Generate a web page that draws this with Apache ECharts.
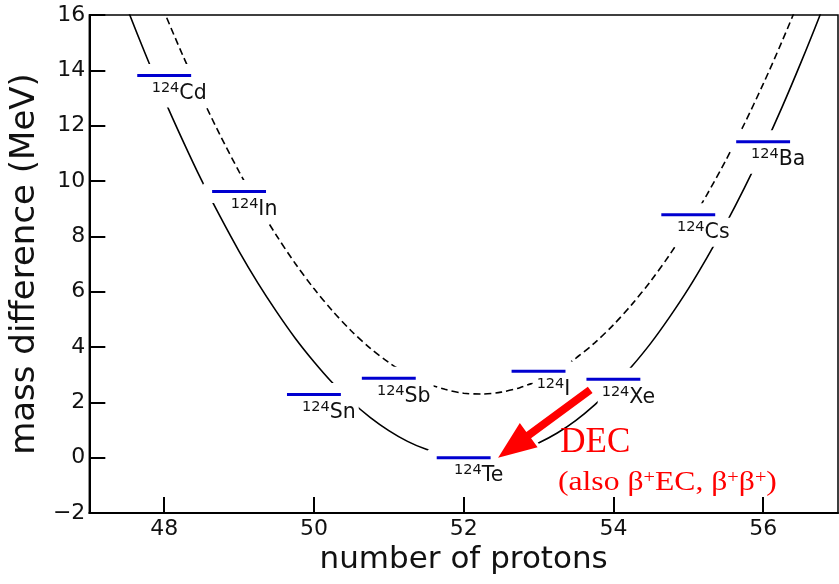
<!DOCTYPE html>
<html><head><meta charset="utf-8">
<script src="https://cdn.jsdelivr.net/npm/echarts@6/dist/echarts.min.js"></script>
<style>html,body{margin:0;padding:0;background:#fff}#c{width:839px;height:584px}</style>
</head><body><div id="c"></div>
<script>
// ---- data ----
const massNumber = '124';
const elements = ['Cd', 'In', 'Sn', 'Sb', 'Te', 'I', 'Xe', 'Cs', 'Ba'];
const protons = [48, 49, 50, 51, 52, 53, 54, 55, 56];
const massDiff = [13.81, 9.62, 2.28, 2.87, 0.0, 3.12, 2.83, 8.78, 11.42];

// even-even parabola (solid)
const evenZ = [47.0, 47.25, 47.5, 47.75, 48.0, 48.25, 48.5, 48.75, 49.0, 49.25, 49.5, 49.75, 50.0, 50.25, 50.5, 50.75, 51.0, 51.25, 51.5, 51.75, 52.0, 52.25, 52.5, 52.75, 53.0, 53.25, 53.5, 53.75, 54.0, 54.25, 54.5, 54.75, 55.0, 55.25, 55.5, 55.75, 56.0, 56.25, 56.5, 56.75, 57.0];
const evenE = [19.98, 18.08, 16.28, 14.58, 12.96, 11.45, 10.02, 8.70, 7.46, 6.32, 5.28, 4.32, 3.47, 2.70, 2.03, 1.46, 0.98, 0.59, 0.30, 0.10, 0.0, -0.01, 0.07, 0.25, 0.53, 0.89, 1.35, 1.91, 2.56, 3.31, 4.14, 5.08, 6.10, 7.23, 8.44, 9.75, 11.15, 12.65, 14.25, 15.93, 17.71];
// odd-odd parabola (dashed)
const oddZ = [47.5, 47.75, 48.0, 48.25, 48.5, 48.75, 49.0, 49.25, 49.5, 49.75, 50.0, 50.25, 50.5, 50.75, 51.0, 51.25, 51.5, 51.75, 52.0, 52.25, 52.5, 52.75, 53.0, 53.25, 53.5, 53.75, 54.0, 54.25, 54.5, 54.75, 55.0, 55.25, 55.5, 55.75, 56.0, 56.25, 56.5, 56.75, 57.0];
const oddE = [19.60, 17.81, 16.12, 14.53, 13.04, 11.64, 10.34, 9.13, 8.03, 7.02, 6.11, 5.30, 4.58, 3.96, 3.44, 3.02, 2.69, 2.47, 2.33, 2.30, 2.37, 2.53, 2.79, 3.14, 3.60, 4.15, 4.80, 5.55, 6.39, 7.33, 8.37, 9.51, 10.74, 12.07, 13.50, 15.03, 16.66, 18.38, 20.20];

const xTicks = [48, 50, 52, 54, 56];
const arrowFrom = [53.69, 2.45];
const arrowTo = [52.46, 0.0];
const decTitle = 'DEC';
const decNote = '(also β{s|+}EC, β{s|+}β{s|+})';
const decTitlePos = [53.29, 0.53];
const decNotePos = [53.26, -0.92];

// ---- helpers ----
const cvs = document.createElement('canvas').getContext('2d');
function tw(t, size, fam) { cvs.font = size + 'px ' + fam; return cvs.measureText(t).width; }
const SANS = '"DejaVu Sans"';
const halfBar = 0.36;
const labelShift = 0.2;
const SUP = 14.5, MAIN = 20.5;

function levelGeom(api) {
  const z = api.value(0), e = api.value(1), i = api.value(2);
  const l = api.coord([z - halfBar, e]);
  const r = api.coord([z + halfBar, e]);
  const c = api.coord([z + labelShift, e]);
  const ws = tw(massNumber, SUP, SANS), wm = tw(elements[i], MAIN, SANS);
  const x0 = c[0] - (ws + wm) / 2;
  return { l, r, y: l[1], x0, ws, wm, name: elements[i] };
}

const levelData = protons.map((z, i) => [z, massDiff[i], i]);

const chart = echarts.init(document.getElementById('c'), null, { renderer: 'canvas' });
chart.setOption({
  animation: false,
  backgroundColor: '#fff',
  grid: { left: 89, right: 1, top: 15, bottom: 71, show: true, borderColor: '#000', borderWidth: 1.5, backgroundColor: 'transparent' },
  xAxis: {
    type: 'value', min: 47, max: 57,
    name: 'number of protons', nameLocation: 'middle', nameGap: 30,
    nameTextStyle: { fontSize: 31, fontFamily: 'DejaVu Sans', color: '#111' },
    axisLine: { show: true, onZero: false, lineStyle: { color: '#000', width: 2 } },
    axisTick: { show: true, inside: true, length: 16, customValues: xTicks, lineStyle: { color: '#000', width: 2 } },
    axisLabel: { customValues: xTicks, margin: 5, fontSize: 22, fontFamily: 'DejaVu Sans', color: '#111' },
    splitLine: { show: false }
  },
  yAxis: {
    type: 'value', min: -2, max: 16, interval: 2,
    name: 'mass difference (MeV)', nameLocation: 'middle', nameGap: 44,
    nameTextStyle: { fontSize: 34, fontFamily: 'DejaVu Sans', color: '#111' },
    axisLine: { show: true, lineStyle: { color: '#000', width: 2 } },
    axisTick: { show: true, inside: true, length: 16, lineStyle: { color: '#000', width: 2 } },
    axisLabel: { margin: 4, fontSize: 22, fontFamily: 'DejaVu Sans', color: '#111',
      formatter: v => (v < 0 ? '\u2212' + Math.abs(v) : String(v)) },
    splitLine: { show: false }
  },
  series: [
    {
      type: 'line', name: 'even-even', data: evenZ.map((z, i) => [z, evenE[i]]),
      smooth: 0.3, showSymbol: false, symbol: 'none', clip: true, z: 2,
      lineStyle: { color: '#000', width: 1.6 }
    },
    {
      type: 'line', name: 'odd-odd', data: oddZ.map((z, i) => [z, oddE[i]]),
      smooth: 0.3, showSymbol: false, symbol: 'none', clip: true, z: 2,
      lineStyle: { color: '#000', width: 1.6, type: [7, 4] }
    },
    {
      type: 'custom', name: 'masks', z: 3, data: levelData,
      renderItem(params, api) {
        const g = levelGeom(api);
        return {
          type: 'group', children: [
            { type: 'line', shape: { x1: g.l[0], y1: g.y, x2: g.r[0], y2: g.y }, style: { stroke: '#fff', lineWidth: 23, lineCap: 'round' } },
            { type: 'rect', shape: { x: g.x0 - 4, y: g.y + 3, width: g.ws + g.wm + 7, height: 29 }, style: { fill: '#fff' } }
          ]
        };
      }
    },
    {
      type: 'custom', name: 'arrow', z: 4, data: [[arrowFrom[0], arrowFrom[1], arrowTo[0], arrowTo[1]]],
      renderItem(params, api) {
        const a = api.coord([api.value(0), api.value(1)]);
        const b = api.coord([api.value(2), api.value(3)]);
        const dx = b[0] - a[0], dy = b[1] - a[1];
        const L = Math.hypot(dx, dy);
        const ux = dx / L, uy = dy / L, nx = -uy, ny = ux;
        const hl = 38, hw = 15, sw = 4;
        const bx = b[0] - ux * hl, by = b[1] - uy * hl;
        const pts = [
          [a[0] + nx * sw, a[1] + ny * sw],
          [bx + nx * sw, by + ny * sw],
          [bx + nx * hw, by + ny * hw],
          [b[0], b[1]],
          [bx - nx * hw, by - ny * hw],
          [bx - nx * sw, by - ny * sw],
          [a[0] - nx * sw, a[1] - ny * sw]
        ];
        return { type: 'polygon', shape: { points: pts }, style: { fill: '#ff0000', stroke: '#fff', lineWidth: 6, strokeFirst: true } };
      }
    },
    {
      type: 'custom', name: 'levels', z: 5, data: levelData,
      renderItem(params, api) {
        const g = levelGeom(api);
        return {
          type: 'group', children: [
            { type: 'line', shape: { x1: g.l[0], y1: g.y, x2: g.r[0], y2: g.y }, style: { stroke: '#0000d0', lineWidth: 3 } },
            { type: 'text', x: g.x0, y: g.y + 12.6, style: { text: massNumber, fontSize: SUP, fontFamily: 'DejaVu Sans', fill: '#111', align: 'left', verticalAlign: 'middle' } },
            { type: 'text', x: g.x0 + g.ws, y: g.y + 18, style: { text: g.name, fontSize: MAIN, fontFamily: 'DejaVu Sans', fill: '#111', align: 'left', verticalAlign: 'middle' } }
          ]
        };
      }
    },
    {
      type: 'custom', name: 'annotation', z: 6, data: [[decTitlePos[0], decTitlePos[1], decNotePos[0], decNotePos[1]]],
      renderItem(params, api) {
        const p1 = api.coord([api.value(0), api.value(1)]);
        const p2 = api.coord([api.value(2), api.value(3)]);
        return {
          type: 'group', children: [
            { type: 'text', x: p1[0], y: p1[1], style: { text: decTitle, fontSize: 35, fontFamily: 'Liberation Serif', fill: '#ff0000', align: 'left', verticalAlign: 'middle' } },
            { type: 'text', x: p2[0], y: p2[1], scaleX: 1.13, style: {
              text: decNote, fontSize: 28, fontFamily: 'Liberation Serif', fill: '#ff0000', align: 'left', verticalAlign: 'middle', lineHeight: 28,
              rich: { s: { fontSize: 18, fontFamily: 'Liberation Serif', fill: '#ff0000', lineHeight: 4, verticalAlign: 'top' } }
            } }
          ]
        };
      }
    }
  ]
});
</script></body></html>
